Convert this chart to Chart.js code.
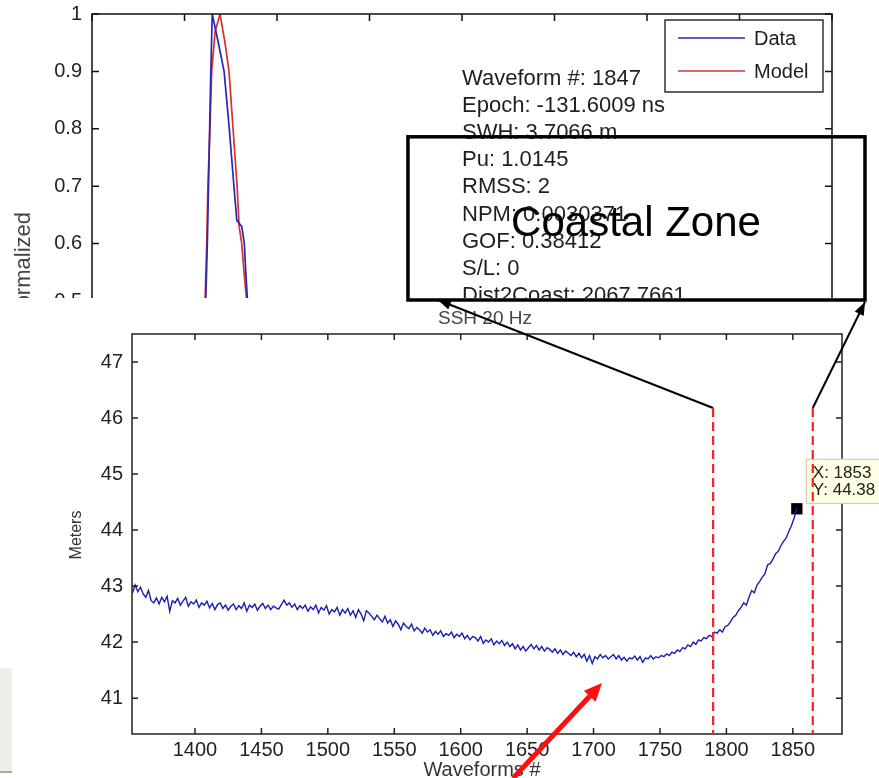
<!DOCTYPE html>
<html><head><meta charset="utf-8">
<script src="https://cdn.jsdelivr.net/npm/chart.js@4/dist/chart.umd.min.js"></script>
<style>
html,body{margin:0;padding:0;background:#fff;}
body{width:879px;height:778px;position:relative;overflow:hidden;}
#topWrap{position:absolute;left:0;top:0;width:879px;height:298px;overflow:hidden;}
#topChart{position:absolute;left:0;top:0;}
#botChart{position:absolute;left:0;top:0;z-index:2;}
#grayBlock{position:absolute;left:0;top:668px;width:12px;height:103px;background:#eeede7;border-bottom:2px solid #a8a8a8;}
</style></head>
<body>
<div id="topWrap"><canvas id="topChart" width="879" height="320"></canvas></div>
<div id="grayBlock"></div>
<canvas id="botChart" width="879" height="778"></canvas>
<script>
// ---------- Top panel: normalized waveform (Data vs Model) ----------
const gateTicks = [0, 32, 64, 96, 128, 160, 192, 224, 256];
const normTicks = [0.5, 0.6, 0.7, 0.8, 0.9, 1];
const dataGates  = [0, 30, 36, 38.5, 39.9, 41.1, 41.6, 43.7, 45.7, 47.5, 49.1, 50.1, 51.8, 52.7, 53.2, 53.8, 56, 64, 96, 128, 192, 256];
const dataPower  = [0.02, 0.03, 0.08, 0.35, 0.6, 0.9, 1.0, 0.95, 0.9, 0.8, 0.7, 0.64, 0.63, 0.6, 0.55, 0.5, 0.42, 0.35, 0.25, 0.18, 0.1, 0.06];
const modelGates = [0, 30, 36, 38.5, 39.7, 40.1, 40.8, 41.4, 42.6, 44.3, 46.0, 47.4, 48.8, 50.2, 50.9, 51.8, 52.6, 53.5, 55, 64, 96, 128, 192, 256];
const modelPower = [0.02, 0.02, 0.06, 0.4, 0.6, 0.7, 0.8, 0.9, 0.97, 1.0, 0.95, 0.9, 0.8, 0.7, 0.63, 0.6, 0.55, 0.5, 0.42, 0.35, 0.25, 0.18, 0.1, 0.06];
const legendLabels = ["Data", "Model"];
const waveformInfo = ["Waveform #: 1847", "Epoch: -131.6009 ns", "SWH: 3.7066 m", "Pu: 1.0145", "RMSS: 2",
                      "NPM: 0.0030371", "GOF: 0.38412", "S/L: 0", "Dist2Coast: 2067.7661"];
const topYLabel = "Normalized";

// ---------- Bottom panel: SSH 20 Hz ----------
const sshTitle = "SSH 20 Hz";
const sshXLabel = "Waveforms #";
const sshYLabel = "Meters";
const sshFirstWaveform = 1353;
const sshStep = 2;
const sshMeters = [
42.88,43.02,42.90,42.98,42.86,42.80,42.92,42.74,42.70,42.79,
42.68,42.80,42.72,42.82,42.55,42.74,42.70,42.78,42.66,42.73,
42.80,42.64,42.72,42.68,42.75,42.62,42.70,42.66,42.73,42.61,
42.69,42.58,42.67,42.70,42.60,42.66,42.57,42.64,42.68,42.58,
42.65,42.60,42.70,42.55,42.66,42.62,42.68,42.57,42.64,42.69,
42.60,42.66,42.58,42.64,42.61,42.59,42.67,42.75,42.66,42.70,
42.62,42.68,42.58,42.65,42.60,42.66,42.55,42.63,42.58,42.66,
42.52,42.62,42.57,42.65,42.50,42.58,42.54,42.62,42.48,42.58,
42.52,42.60,42.48,42.56,42.44,42.58,42.50,42.38,42.56,42.52,
42.46,42.40,42.48,42.42,42.36,42.46,42.34,42.40,42.28,42.38,
42.32,42.22,42.34,42.28,42.24,42.32,42.20,42.26,42.22,42.16,
42.25,42.18,42.22,42.12,42.19,42.14,42.20,42.10,42.15,42.12,
42.18,42.08,42.14,42.10,42.16,42.06,42.12,42.04,42.10,42.08,
42.02,42.10,41.98,42.04,42.00,42.06,41.95,42.02,41.97,42.03,
41.94,42.00,41.92,41.97,41.88,41.95,41.86,41.92,41.84,41.90,
41.96,41.88,41.94,41.86,41.92,41.84,41.90,41.87,41.82,41.88,
41.80,41.86,41.78,41.84,41.80,41.76,41.82,41.74,41.80,41.72,
41.78,41.66,41.76,41.62,41.74,41.70,41.78,41.72,41.76,41.70,
41.74,41.78,41.70,41.76,41.68,41.73,41.66,41.72,41.70,41.75,
41.68,41.74,41.64,41.72,41.70,41.76,41.70,41.74,41.72,41.76,
41.74,41.79,41.76,41.82,41.80,41.86,41.83,41.90,41.88,41.95,
41.92,42.00,41.96,42.04,42.02,42.08,42.06,42.12,42.10,42.18,
42.16,42.22,42.18,42.28,42.30,42.36,42.44,42.48,42.56,42.62,
42.70,42.66,42.80,42.92,42.88,43.02,43.08,43.16,43.22,43.38,
43.40,43.48,43.58,43.62,43.72,43.80,43.86,43.98,44.08,44.22,
44.38];
const sshTicksX = [1400, 1450, 1500, 1550, 1600, 1650, 1700, 1750, 1800, 1850];
const sshTicksY = [41, 42, 43, 44, 45, 46, 47];
const coastalBounds = [1790, 1865];
const coastalLineTop = 46.18;
const dataTip = {x: 1853, y: 44.38};
const coastalLabel = "Coastal Zone";
// annotation geometry expressed in SSH-panel data coordinates
const zoneBox = {x0: 1560.3, x1: 1904.3, y0: 51.02, y1: 48.107};
const zoneArrowTips = [[1582.9, 48.107], [1904.3, 48.07]];
const redArrow = {from: [1639.4, 39.57], to: [1706.4, 41.27]};

const FONT = '"Liberation Sans", Arial, Helvetica, sans-serif';
Chart.defaults.font.family = FONT;
Chart.defaults.color = '#222';

function arrowHead(ctx, x0, y0, x1, y1, len, half, color) {
  const ang = Math.atan2(y1 - y0, x1 - x0);
  ctx.save();
  ctx.fillStyle = color;
  ctx.beginPath();
  ctx.moveTo(x1, y1);
  ctx.lineTo(x1 - len * Math.cos(ang) + half * Math.sin(ang), y1 - len * Math.sin(ang) - half * Math.cos(ang));
  ctx.lineTo(x1 - len * Math.cos(ang) - half * Math.sin(ang), y1 - len * Math.sin(ang) + half * Math.cos(ang));
  ctx.closePath();
  ctx.fill();
  ctx.restore();
}
function noPad(s) { s.paddingTop = 0; s.paddingBottom = 0; s.paddingLeft = 0; s.paddingRight = 0; }

// ---------- top chart ----------
const topPlugin = {
  id: 'topDecor',
  afterDraw(chart) {
    const {ctx, chartArea: a, scales: {x, y}} = chart;
    ctx.save();
    ctx.strokeStyle = '#111'; ctx.lineWidth = 1.5;
    ctx.beginPath();
    ctx.moveTo(a.left, a.bottom + 20); ctx.lineTo(a.left, a.top); ctx.lineTo(a.right, a.top); ctx.lineTo(a.right, a.bottom + 20);
    ctx.stroke();
    ctx.beginPath();
    gateTicks.forEach(g => { const px = x.getPixelForValue(g); ctx.moveTo(px, a.top); ctx.lineTo(px, a.top + 7); });
    normTicks.forEach(v => { const py = y.getPixelForValue(v);
      ctx.moveTo(a.left, py); ctx.lineTo(a.left + 7, py); ctx.moveTo(a.right, py); ctx.lineTo(a.right - 7, py); });
    ctx.stroke();
    // info text
    ctx.fillStyle = '#1e1e1e';
    ctx.font = '22px ' + FONT;
    ctx.textAlign = 'left'; ctx.textBaseline = 'alphabetic';
    const tx = x.getPixelForValue(128);
    waveformInfo.forEach((s, i) => ctx.fillText(s, tx, 85 + i * 27.1));
    // legend
    const lx = 665, ly = 20, lw = 158, lh = 72;
    ctx.fillStyle = '#fff'; ctx.fillRect(lx, ly, lw, lh);
    ctx.strokeStyle = '#111'; ctx.lineWidth = 1.3; ctx.strokeRect(lx, ly, lw, lh);
    const cols = [chart.data.datasets[0].borderColor, chart.data.datasets[1].borderColor];
    ctx.font = '20px ' + FONT; ctx.textBaseline = 'middle';
    [38, 71].forEach((yy, i) => {
      ctx.strokeStyle = cols[i]; ctx.lineWidth = 1.6;
      ctx.beginPath(); ctx.moveTo(678, yy); ctx.lineTo(745, yy); ctx.stroke();
      ctx.fillStyle = '#1e1e1e'; ctx.fillText(legendLabels[i], 754, yy + 1);
    });
    // y label (cut off by the crop)
    ctx.translate(24, 212); ctx.rotate(-Math.PI / 2);
    ctx.textAlign = 'right'; ctx.textBaseline = 'middle';
    ctx.fillStyle = '#444'; ctx.font = '22px ' + FONT;
    ctx.fillText(topYLabel, 0, 0);
    ctx.restore();
  }
};

new Chart(document.getElementById('topChart'), {
  type: 'line',
  data: {
    datasets: [
      {label: legendLabels[0], data: dataGates.map((g, i) => ({x: g, y: dataPower[i]})),
       borderColor: '#2828b4', borderWidth: 1.7, pointRadius: 0, tension: 0, fill: false},
      {label: legendLabels[1], data: modelGates.map((g, i) => ({x: g, y: modelPower[i]})),
       borderColor: '#d83030', borderWidth: 1.7, pointRadius: 0, tension: 0, fill: false}
    ]
  },
  options: {
    responsive: false, animation: false, devicePixelRatio: 1,
    layout: {padding: {top: 14, right: 47, bottom: 19, left: 0}},
    plugins: {legend: {display: false}, tooltip: {enabled: false}},
    scales: {
      x: {type: 'linear', min: 0, max: 256, display: false},
      y: {type: 'linear', min: 0.5, max: 1,
          afterFit(s) { s.width = 92; noPad(s); },
          grid: {display: false}, border: {display: false},
          ticks: {stepSize: 0.1, padding: 2, color: '#222', font: {size: 20},
                  callback: v => String(parseFloat(Number(v).toFixed(1)))}}
    }
  },
  plugins: [topPlugin]
});

// ---------- bottom chart ----------
const sshPoints = sshMeters.map((m, i) => ({x: sshFirstWaveform + i * sshStep, y: m}));

const botPlugin = {
  id: 'botDecor',
  afterDraw(chart) {
    const {ctx, chartArea: a, scales: {x, y}} = chart;
    const X = v => x.getPixelForValue(v), Y = v => y.getPixelForValue(v);
    ctx.save();
    // axes box
    ctx.strokeStyle = '#222'; ctx.lineWidth = 1.5;
    ctx.strokeRect(a.left, a.top, a.right - a.left, a.bottom - a.top);
    ctx.beginPath();
    sshTicksX.forEach(v => { const px = X(v);
      ctx.moveTo(px, a.bottom); ctx.lineTo(px, a.bottom - 6); ctx.moveTo(px, a.top); ctx.lineTo(px, a.top + 6); });
    sshTicksY.forEach(v => { const py = Y(v);
      ctx.moveTo(a.left, py); ctx.lineTo(a.left + 6, py); ctx.moveTo(a.right, py); ctx.lineTo(a.right - 6, py); });
    ctx.stroke();
    // titles
    ctx.fillStyle = '#444'; ctx.font = '19px ' + FONT; ctx.textAlign = 'center'; ctx.textBaseline = 'alphabetic';
    ctx.fillText(sshTitle, 485, 324);
    ctx.fillStyle = '#333'; ctx.font = '20px ' + FONT;
    ctx.fillText(sshXLabel, 482, 776);
    ctx.save();
    ctx.translate(77, 535); ctx.rotate(-Math.PI / 2);
    ctx.font = '16px ' + FONT; ctx.textBaseline = 'middle'; ctx.fillStyle = '#333';
    ctx.fillText(sshYLabel, 0, 0);
    ctx.restore();
    // black connector arrows
    ctx.strokeStyle = '#000'; ctx.lineWidth = 2;
    coastalBounds.forEach((b, i) => {
      const x0 = X(b), y0 = Y(coastalLineTop), x1 = X(zoneArrowTips[i][0]), y1 = Y(zoneArrowTips[i][1]);
      ctx.beginPath(); ctx.moveTo(x0, y0); ctx.lineTo(x1, y1); ctx.stroke();
      arrowHead(ctx, x0, y0, x1, y1, 13, 5, '#000');
    });
    // coastal zone box
    ctx.lineWidth = 3.5; ctx.strokeStyle = '#000';
    ctx.strokeRect(X(zoneBox.x0), Y(zoneBox.y0), X(zoneBox.x1) - X(zoneBox.x0), Y(zoneBox.y1) - Y(zoneBox.y0));
    ctx.fillStyle = '#000'; ctx.font = '42px ' + FONT; ctx.textAlign = 'center'; ctx.textBaseline = 'alphabetic';
    ctx.fillText(coastalLabel, 636, 236);
    // data tip
    const mx = X(dataTip.x), my = Y(dataTip.y);
    ctx.fillStyle = '#ffffe6'; ctx.strokeStyle = '#c9c9b0'; ctx.lineWidth = 1;
    ctx.fillRect(mx + 9, my - 50, 90, 45); ctx.strokeRect(mx + 9.5, my - 49.5, 90, 44);
    ctx.fillStyle = '#222'; ctx.font = '17px ' + FONT; ctx.textAlign = 'left';
    ctx.fillText('X: ' + dataTip.x, mx + 16, my - 31);
    ctx.fillText('Y: ' + dataTip.y.toFixed(2), mx + 16, my - 14);
    // red dashed lines
    ctx.strokeStyle = '#ff2020'; ctx.lineWidth = 2.2; ctx.setLineDash([9, 5]);
    coastalBounds.forEach(b => { ctx.beginPath(); ctx.moveTo(X(b), Y(coastalLineTop)); ctx.lineTo(X(b), a.bottom); ctx.stroke(); });
    ctx.setLineDash([]);
    // red arrow
    const rx0 = X(redArrow.from[0]), ry0 = Y(redArrow.from[1]), rx1 = X(redArrow.to[0]), ry1 = Y(redArrow.to[1]);
    ctx.strokeStyle = '#ff1010'; ctx.lineWidth = 5;
    const ang = Math.atan2(ry1 - ry0, rx1 - rx0);
    ctx.beginPath(); ctx.moveTo(rx0, ry0); ctx.lineTo(rx1 - 12 * Math.cos(ang), ry1 - 12 * Math.sin(ang)); ctx.stroke();
    arrowHead(ctx, rx0, ry0, rx1, ry1, 18, 8, '#ff1010');
    ctx.restore();
  }
};

new Chart(document.getElementById('botChart'), {
  type: 'line',
  data: {
    datasets: [
      {label: 'SSH', data: sshPoints, borderColor: '#1c1cb0', borderWidth: 1.4, pointRadius: 0, tension: 0, fill: false},
      {label: 'tip', data: [{x: dataTip.x, y: dataTip.y}], showLine: false, pointStyle: 'rect',
       pointRadius: 8, backgroundColor: '#000', borderColor: '#000', borderWidth: 0}
    ]
  },
  options: {
    responsive: false, animation: false, devicePixelRatio: 1,
    layout: {padding: {top: 334, right: 37, bottom: 0, left: 0}},
    plugins: {legend: {display: false}, tooltip: {enabled: false}},
    scales: {
      x: {type: 'linear', min: 1352.6, max: 1887, afterFit(s) { s.height = 44; noPad(s); },
          grid: {display: false}, border: {display: false},
          afterBuildTicks(s) { s.ticks = sshTicksX.map(v => ({value: v})); },
          ticks: {padding: -4, maxRotation: 0, autoSkip: false, color: '#222', font: {size: 20}, callback: v => String(v)}},
      y: {type: 'linear', min: 40.36, max: 47.5, afterFit(s) { s.width = 132; noPad(s); },
          grid: {display: false}, border: {display: false},
          afterBuildTicks(s) { s.ticks = sshTicksY.map(v => ({value: v})); },
          ticks: {padding: 1, autoSkip: false, color: '#222', font: {size: 20}, callback: v => String(v)}}
    }
  },
  plugins: [botPlugin]
});
</script>
</body></html>
